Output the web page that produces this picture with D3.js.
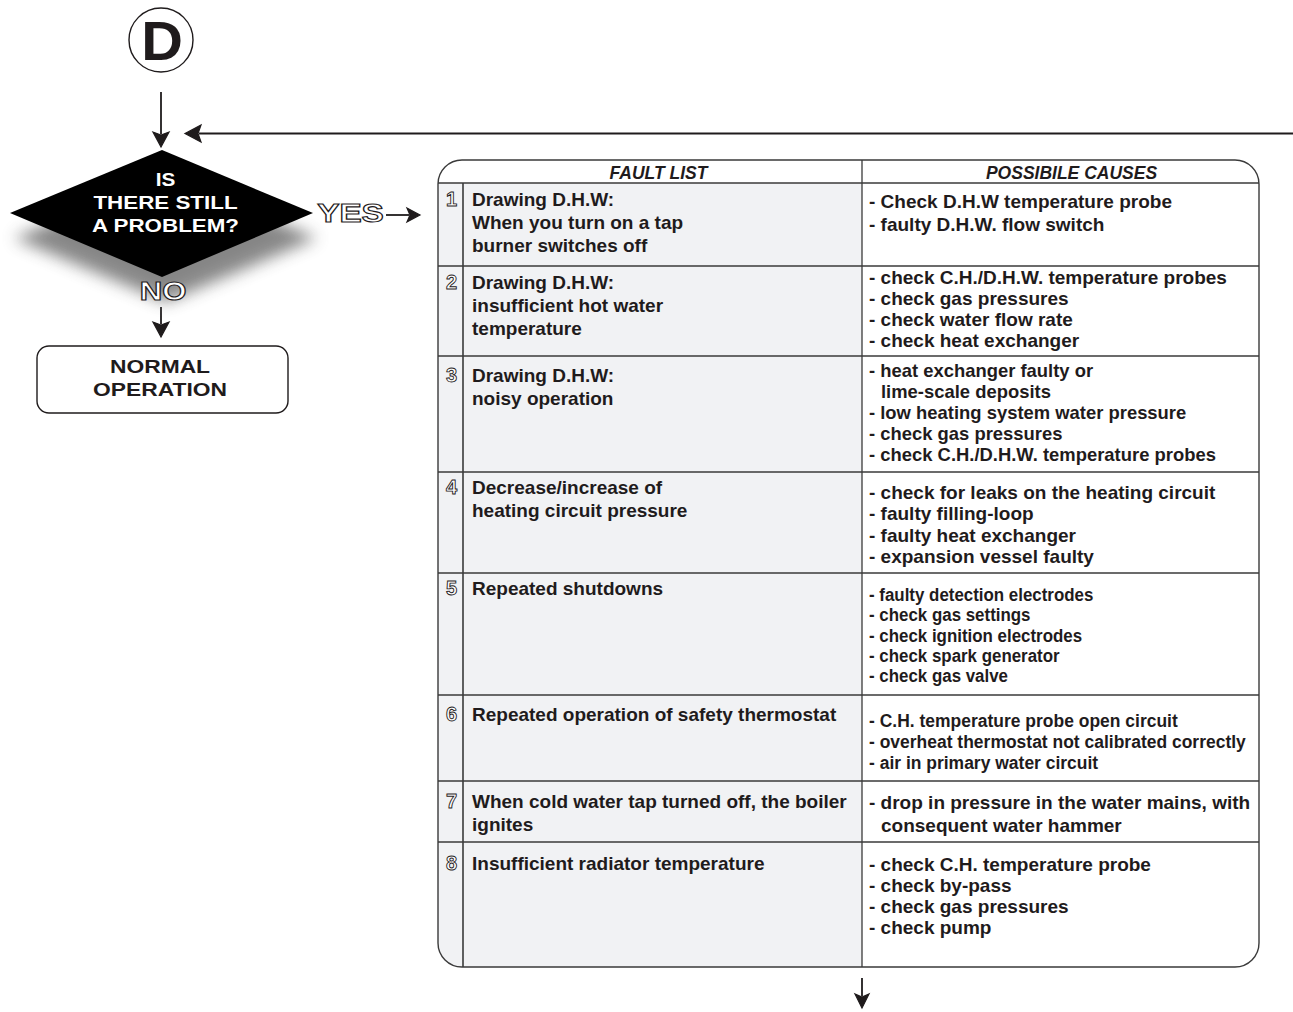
<!DOCTYPE html>
<html>
<head>
<meta charset="utf-8">
<script src="https://cdn.jsdelivr.net/npm/d3@7"></script>
<style>
  html, body { margin: 0; padding: 0; background: #fff; }
  svg { display: block; }
  text { font-family: "Liberation Sans", Arial, Helvetica, sans-serif; font-weight: bold; }
</style>
</head>
<body>
<svg id="chart" width="1293" height="1012"></svg>
<script>
// ---------------- DATA ----------------
const startLabel = "D";
const questionLines = ["IS", "THERE STILL", "A PROBLEM?"];
const yesLabel = "YES";
const noLabel = "NO";
const endLines = ["NORMAL", "OPERATION"];
const headers = ["FAULT LIST", "POSSIBILE CAUSES"];
const faultNumbers = ["1", "2", "3", "4", "5", "6", "7", "8"];
const faultTexts = [
  ["Drawing D.H.W:", "When you turn on a tap", "burner switches off"],
  ["Drawing D.H.W:", "insufficient hot water", "temperature"],
  ["Drawing D.H.W:", "noisy operation"],
  ["Decrease/increase of", "heating circuit pressure"],
  ["Repeated shutdowns"],
  ["Repeated operation of safety thermostat"],
  ["When cold water tap turned off, the boiler", "ignites"],
  ["Insufficient radiator temperature"]
];
const causeTexts = [
  ["- Check D.H.W temperature probe", "- faulty D.H.W. flow switch"],
  ["- check C.H./D.H.W. temperature probes", "- check gas pressures", "- check water flow rate", "- check heat exchanger"],
  ["- heat exchanger faulty or", "  lime-scale deposits", "- low heating system water pressure", "- check gas pressures", "- check C.H./D.H.W. temperature probes"],
  ["- check for leaks on the heating circuit", "- faulty filling-loop", "- faulty heat exchanger", "- expansion vessel faulty"],
  ["- faulty detection electrodes", "- check gas settings", "- check ignition electrodes", "- check spark generator", "- check gas valve"],
  ["- C.H. temperature probe open circuit", "- overheat thermostat not calibrated correctly", "- air in primary water circuit"],
  ["- drop in pressure in the water mains, with", "  consequent water hammer"],
  ["- check C.H. temperature probe", "- check by-pass", "- check gas pressures", "- check pump"]
];

// ---------------- LAYOUT (positions / styles) ----------------
const ink = "#1f1b1c", lineCol = "#3a3a3a", cellFill = "#f1f2f4";
const tbl = { x0: 438, x1: 1259, y0: 160, y1: 967, r: 24, numDiv: 463, colDiv: 862, headBottom: 183 };
const rowEdges = [183, 266, 356, 472, 573, 695, 781, 842, 967];
const faultBase = [206, 289, 382, 494, 595, 721, 808, 870];
const faultStep = 23;
const causeBase = [208, 284, 377, 499, 601, 727, 809, 871];
const causeStep = [23, 21, 21, 21.3, 20.3, 21, 23, 21];
const causeSqueeze = [1, 1, 0.97, 1, 0.89, 0.92, 1, 1];
const fs = 19;

const svg = d3.select("#chart");
const defs = svg.append("defs");
defs.append("filter").attr("id", "shadowBlur")
  .attr("x", "-30%").attr("y", "-30%").attr("width", "160%").attr("height", "180%")
  .append("feGaussianBlur").attr("stdDeviation", 8);
defs.append("clipPath").attr("id", "tblClip")
  .append("rect").attr("x", tbl.x0).attr("y", tbl.y0)
  .attr("width", tbl.x1 - tbl.x0).attr("height", tbl.y1 - tbl.y0)
  .attr("rx", tbl.r).attr("ry", tbl.r);

// arrow helper: shaft + solid triangular arrowhead
function arrow(g, x1, y1, tx, ty, L, Wd) {
  const dx = tx - x1, dy = ty - y1, len = Math.hypot(dx, dy);
  const ux = dx / len, uy = dy / len, px = -uy, py = ux;
  const bx = tx - ux * L, by = ty - uy * L;
  g.append("line").attr("x1", x1).attr("y1", y1)
    .attr("x2", bx + ux * 2).attr("y2", by + uy * 2)
    .attr("stroke", ink).attr("stroke-width", 1.8);
  const pts = [[tx, ty], [bx + px * Wd, by + py * Wd], [bx + ux * 3, by + uy * 3], [bx - px * Wd, by - py * Wd]];
  g.append("polygon").attr("points", pts.map(p => p.join(",")).join(" "))
    .attr("fill", ink).attr("stroke", ink).attr("stroke-width", 1.2)
    .attr("stroke-linejoin", "miter");
}

// ---------------- START CIRCLE ----------------
svg.append("circle").attr("cx", 161).attr("cy", 40).attr("r", 32)
  .attr("fill", "#fff").attr("stroke", ink).attr("stroke-width", 1.4);
svg.append("g").attr("transform", "translate(162,59.5) scale(1.05,1)")
  .append("text").attr("text-anchor", "middle")
  .attr("font-size", 55).attr("fill", ink).text(startLabel);

// ---------------- ARROWS ----------------
const arrows = [
  [161, 92, 161, 147, 15, 8],
  [1293, 133.5, 185, 133.5, 16, 8.5],
  [386, 215, 420, 215, 13, 7],
  [161, 307, 161, 337, 15, 8],
  [862, 978, 862, 1008, 14, 7]
];
arrows.forEach(a => arrow(svg.append("g"), ...a));

// ---------------- DIAMOND ----------------
const dia = [[10, 213], [162, 150], [313, 213], [162, 277]];
svg.append("path")
  .attr("d", d3.line()(dia.map(p => [p[0] + 4, p[1] + 25])) + "Z")
  .attr("fill", "#7a7a7a").attr("opacity", 0.9).attr("filter", "url(#shadowBlur)");
svg.append("path").attr("d", d3.line()(dia) + "Z").attr("fill", "#000");
const qY = [185.5, 209, 232];
const qSx = [1.12, 1.21, 1.21];
questionLines.forEach((t, i) => {
  svg.append("g").attr("transform", `translate(165.5,${qY[i]}) scale(${qSx[i]},1)`)
    .append("text").attr("text-anchor", "middle").attr("font-size", 18.5)
    .attr("fill", "#fff").text(t);
});

// YES / NO outlined labels
svg.append("g").attr("transform", "translate(350.5,221.5) scale(1.28,1)")
  .append("text").attr("text-anchor", "middle").attr("font-size", 26)
  .attr("fill", "#fff").attr("stroke", ink).attr("stroke-width", 1.1).text(yesLabel);
svg.append("g").attr("transform", "translate(163,300) scale(1.22,1)")
  .append("text").attr("text-anchor", "middle").attr("font-size", 25.5)
  .attr("fill", "#fff").attr("stroke", ink).attr("stroke-width", 1.1).text(noLabel);

// ---------------- END BOX ----------------
svg.append("rect").attr("x", 37).attr("y", 346).attr("width", 251).attr("height", 67)
  .attr("rx", 12).attr("ry", 12).attr("fill", "#fff").attr("stroke", ink).attr("stroke-width", 1.4);
const eY = [372.5, 395.5];
endLines.forEach((t, i) => {
  svg.append("g").attr("transform", `translate(160,${eY[i]}) scale(1.29,1)`)
    .append("text").attr("text-anchor", "middle").attr("font-size", 17.7)
    .attr("fill", ink).text(t);
});

// ---------------- TABLE ----------------
const gT = svg.append("g");
const gClip = gT.append("g").attr("clip-path", "url(#tblClip)");
gClip.append("rect").attr("x", tbl.x0).attr("y", tbl.headBottom)
  .attr("width", tbl.colDiv - tbl.x0).attr("height", tbl.y1 - tbl.headBottom)
  .attr("fill", cellFill);

gT.selectAll("line.row").data(rowEdges.slice(0, -1)).join("line")
  .attr("class", "row").attr("x1", tbl.x0).attr("x2", tbl.x1)
  .attr("y1", d => d).attr("y2", d => d)
  .attr("stroke", lineCol).attr("stroke-width", 1.3);
gT.append("line").attr("x1", tbl.numDiv).attr("x2", tbl.numDiv)
  .attr("y1", tbl.headBottom).attr("y2", tbl.y1)
  .attr("stroke", lineCol).attr("stroke-width", 1.6);
gT.append("line").attr("x1", tbl.colDiv).attr("x2", tbl.colDiv)
  .attr("y1", tbl.y0).attr("y2", tbl.y1)
  .attr("stroke", lineCol).attr("stroke-width", 1.3);
gT.append("rect").attr("x", tbl.x0).attr("y", tbl.y0)
  .attr("width", tbl.x1 - tbl.x0).attr("height", tbl.y1 - tbl.y0)
  .attr("rx", tbl.r).attr("ry", tbl.r)
  .attr("fill", "none").attr("stroke", lineCol).attr("stroke-width", 1.4);

const headX = [658.5, 1071.5];
headers.forEach((h, i) => {
  gT.append("text").attr("x", headX[i]).attr("y", 178.5).attr("text-anchor", "middle")
    .attr("font-size", 17.5).attr("font-style", "italic").attr("fill", ink).text(h);
});

gT.selectAll("text.num").data(faultNumbers).join("text")
  .attr("class", "num").attr("x", 451.5).attr("y", (d, i) => faultBase[i])
  .attr("text-anchor", "middle").attr("font-size", 20)
  .attr("fill", "#fff").attr("stroke", ink).attr("stroke-width", 0.9).text(d => d);

faultTexts.forEach((lines, r) => {
  gT.append("g").selectAll("text").data(lines).join("text")
    .attr("x", 472).attr("y", (d, i) => faultBase[r] + i * faultStep)
    .attr("font-size", fs).attr("fill", ink).text(d => d);
});

causeTexts.forEach((lines, r) => {
  const g = gT.append("g").attr("transform", `translate(869,0) scale(${causeSqueeze[r]},1)`);
  g.selectAll("text").data(lines).join("text")
    .attr("x", d => d.startsWith("  ") ? 12 / causeSqueeze[r] : 0)
    .attr("y", (d, i) => causeBase[r] + i * causeStep[r])
    .attr("font-size", fs).attr("fill", ink).text(d => d.trim());
});
</script>
</body>
</html>
